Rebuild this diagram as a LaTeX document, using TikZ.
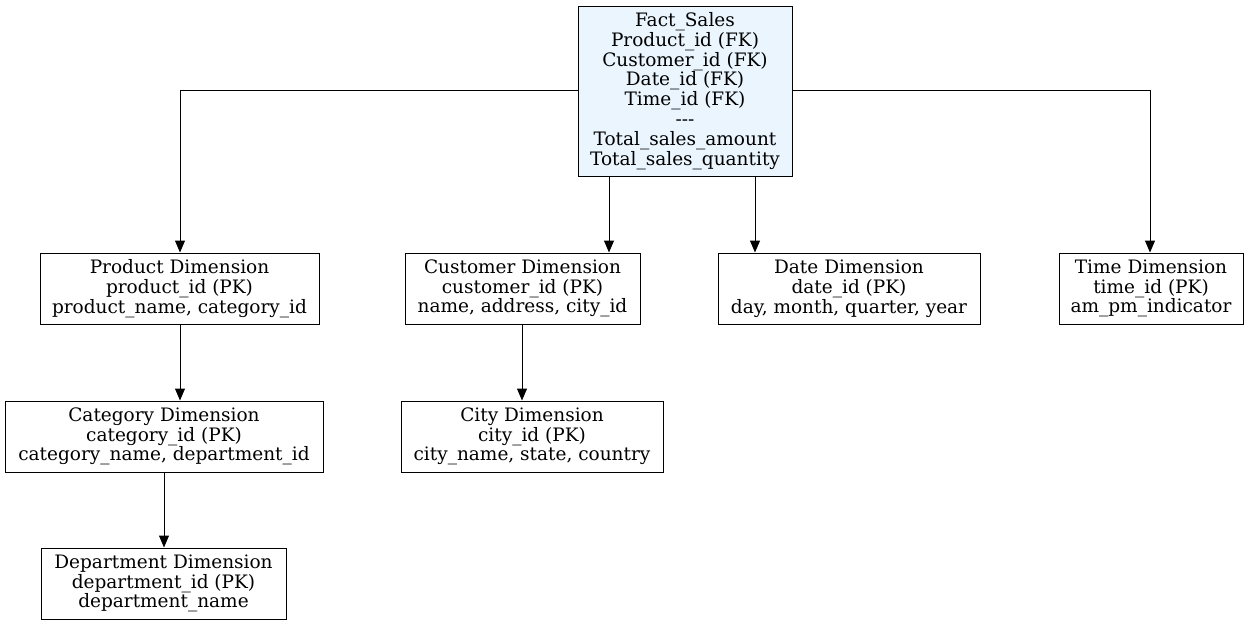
\documentclass[tikz,border=0pt]{standalone}
\usepackage{fontspec}
\setmainfont{DejaVu Serif}
\usetikzlibrary{arrows.meta}
\definecolor{factfill}{HTML}{EAF5FE}
\tikzset{
  box/.style={draw=black, line width=1pt, fill=white, align=center, inner sep=0pt,
    font=\fontsize{18.5}{19.8}\selectfont},
  arr/.style={line width=1pt, -{Triangle[length=12pt,width=10pt]}},
}
\begin{document}
\begin{tikzpicture}[x=1pt,y=-1pt]
\useasboundingbox (0,0) rectangle (1248,625);
\node[box, fill=factfill, minimum width=214pt, minimum height=170pt] (fact) at (685,91)
  {Fact\_Sales\\Product\_id (FK)\\Customer\_id (FK)\\Date\_id (FK)\\Time\_id (FK)\\\mbox{-}\mbox{-}\mbox{-}\\Total\_sales\_amount\\Total\_sales\_quantity};
\node[box, minimum width=279pt, minimum height=71pt] (prod) at (179.5,288.5)
  {Product Dimension\\product\_id (PK)\\product\_name, category\_id};
\node[box, minimum width=235pt, minimum height=71pt] (cust) at (522.5,288.5)
  {Customer Dimension\\customer\_id (PK)\\name, address, city\_id};
\node[box, minimum width=262pt, minimum height=71pt] (date) at (849,288.5)
  {Date Dimension\\date\_id (PK)\\day, month, quarter, year};
\node[box, minimum width=184pt, minimum height=71pt] (time) at (1151,288.5)
  {Time Dimension\\time\_id (PK)\\am\_pm\_indicator};
\node[box, minimum width=318pt, minimum height=71pt] (cat) at (164,436.5)
  {Category Dimension\\category\_id (PK)\\category\_name, department\_id};
\node[box, minimum width=262pt, minimum height=71pt] (city) at (532,436.5)
  {City Dimension\\city\_id (PK)\\city\_name, state, country};
\node[box, minimum width=245pt, minimum height=71pt] (dept) at (163.5,583.5)
  {Department Dimension\\department\_id (PK)\\department\_name};
\coordinate (yfork) at (0,90);
\coordinate (xprod) at (180,0);
\coordinate (xcust) at (609,0);
\coordinate (xdate) at (755,0);
\coordinate (xtime) at (1150,0);
\coordinate (xcat) at (164,0);
\coordinate (xcity) at (522,0);
\draw[arr] (fact.west |- yfork) -| (prod.north -| xprod);
\draw[arr] (fact.south -| xcust) -- (cust.north -| xcust);
\draw[arr] (fact.south -| xdate) -- (date.north -| xdate);
\draw[arr] (fact.east |- yfork) -| (time.north -| xtime);
\draw[arr] (prod.south -| xprod) -- (cat.north -| xprod);
\draw[arr] (cat.south -| xcat) -- (dept.north -| xcat);
\draw[arr] (cust.south -| xcity) -- (city.north -| xcity);
\end{tikzpicture}
\end{document}
